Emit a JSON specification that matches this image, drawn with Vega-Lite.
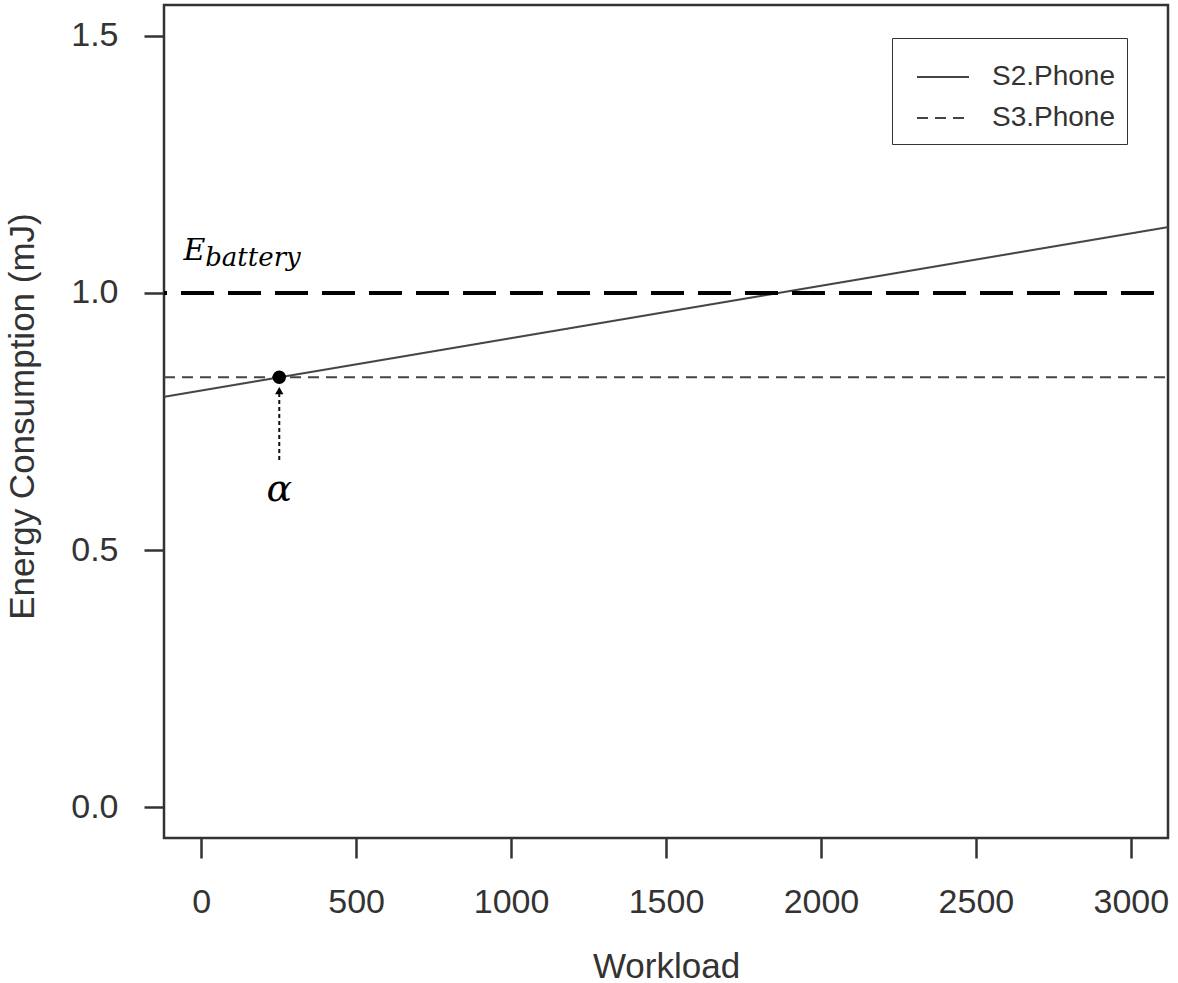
{
  "$schema": "https://vega.github.io/schema/vega-lite/v6.json",
  "width": 1004,
  "height": 833,
  "autosize": {"type": "none"},
  "padding": {"left": 164, "top": 5, "right": 10, "bottom": 145},
  "background": "white",
  "config": {
    "view": {"stroke": "#333333", "strokeWidth": 2.5},
    "font": "Liberation Sans",
    "axis": {
      "domain": false,
      "grid": false,
      "tickColor": "#333333",
      "tickWidth": 2.5,
      "tickSize": 20,
      "labelFont": "Liberation Sans",
      "labelFontSize": 34,
      "labelColor": "#333333",
      "titleFont": "Liberation Sans",
      "titleFontSize": 35,
      "titleFontWeight": "normal",
      "titleColor": "#333333"
    }
  },
  "datasets": {
    "series": [
      {"series": "S2.Phone", "x": -120, "y": 0.798},
      {"series": "S2.Phone", "x": 3120, "y": 1.128},
      {"series": "S3.Phone", "x": -120, "y": 0.836},
      {"series": "S3.Phone", "x": 3120, "y": 0.836}
    ],
    "battery": [{"y": 1.0}],
    "alpha": [{"x": 252, "y": 0.836}],
    "arrow": [{"x": 252, "y": 0.675, "y2": 0.812}],
    "arrowhead": [{"x": 252, "y": 0.81}],
    "alphaLabel": [{"x": 252, "y": 0.617, "label": "α"}],
    "eLabel": [{"x": -57, "y": 1.064, "label": "E"}],
    "subLabel": [{"x": 13, "y": 1.053, "label": "battery"}]
  },
  "layer": [
    {
      "data": {"name": "series"},
      "mark": {"type": "line", "strokeWidth": 2, "color": "#444444", "clip": true},
      "encoding": {
        "x": {
          "field": "x", "type": "quantitative",
          "scale": {"domain": [-120, 3120], "nice": false, "zero": false},
          "axis": {"values": [0, 500, 1000, 1500, 2000, 2500, 3000], "format": "d", "labelPadding": 27, "title": "Workload", "titleX": 502, "titleY": 139, "titleBaseline": "alphabetic"}
        },
        "y": {
          "field": "y", "type": "quantitative",
          "scale": {"domain": [-0.06, 1.56], "nice": false, "zero": false},
          "axis": {"values": [0, 0.5, 1, 1.5], "format": ".1f", "labelPadding": 26, "title": "Energy Consumption (mJ)", "titleX": -142, "titleY": 411, "titleAngle": -90, "titleBaseline": "middle", "titleAlign": "center"}
        },
        "strokeDash": {
          "field": "series", "type": "nominal",
          "scale": {"domain": ["S2.Phone", "S3.Phone"], "range": [[1, 0], [11, 7]]},
          "legend": {
            "title": null,
            "orient": "none",
            "legendX": 728,
            "legendY": 33,
            "symbolType": "stroke",
            "symbolSize": 2704,
            "symbolStrokeWidth": 2,
            "symbolStrokeColor": "#444444",
            "symbolOffset": 12,
            "labelFontSize": 28,
            "labelColor": "#333333",
            "labelFont": "Liberation Sans",
            "labelOffset": 22,
            "strokeColor": "#333333",
            "padding": 12,
            "rowPadding": -6
          }
        }
      }
    },
    {
      "data": {"name": "battery"},
      "mark": {"type": "rule", "color": "#000000", "strokeWidth": 4, "strokeDash": [33, 14], "strokeDashOffset": 33},
      "encoding": {"y": {"field": "y", "type": "quantitative"}}
    },
    {
      "data": {"name": "arrow"},
      "mark": {"type": "rule", "color": "#111111", "strokeWidth": 2, "strokeDash": [4, 3]},
      "encoding": {
        "x": {"field": "x", "type": "quantitative"},
        "y": {"field": "y", "type": "quantitative"},
        "y2": {"field": "y2"}
      }
    },
    {
      "data": {"name": "arrowhead"},
      "mark": {"type": "point", "shape": "triangle-up", "filled": true, "color": "#000000", "size": 70, "opacity": 1},
      "encoding": {
        "x": {"field": "x", "type": "quantitative"},
        "y": {"field": "y", "type": "quantitative"}
      }
    },
    {
      "data": {"name": "alpha"},
      "mark": {"type": "point", "shape": "circle", "filled": true, "color": "#000000", "size": 180, "opacity": 1},
      "encoding": {
        "x": {"field": "x", "type": "quantitative"},
        "y": {"field": "y", "type": "quantitative"}
      }
    },
    {
      "data": {"name": "alphaLabel"},
      "mark": {"type": "text", "font": "DejaVu Serif", "fontStyle": "italic", "fontSize": 38, "color": "#000000", "align": "center", "baseline": "middle"},
      "encoding": {
        "x": {"field": "x", "type": "quantitative"},
        "y": {"field": "y", "type": "quantitative"},
        "text": {"field": "label"}
      }
    },
    {
      "data": {"name": "eLabel"},
      "mark": {"type": "text", "font": "DejaVu Serif", "fontStyle": "italic", "fontSize": 30, "color": "#000000", "align": "left", "baseline": "alphabetic"},
      "encoding": {
        "x": {"field": "x", "type": "quantitative"},
        "y": {"field": "y", "type": "quantitative"},
        "text": {"field": "label"}
      }
    },
    {
      "data": {"name": "subLabel"},
      "mark": {"type": "text", "font": "DejaVu Serif", "fontStyle": "italic", "fontSize": 26, "color": "#000000", "align": "left", "baseline": "alphabetic"},
      "encoding": {
        "x": {"field": "x", "type": "quantitative"},
        "y": {"field": "y", "type": "quantitative"},
        "text": {"field": "label"}
      }
    }
  ]
}
